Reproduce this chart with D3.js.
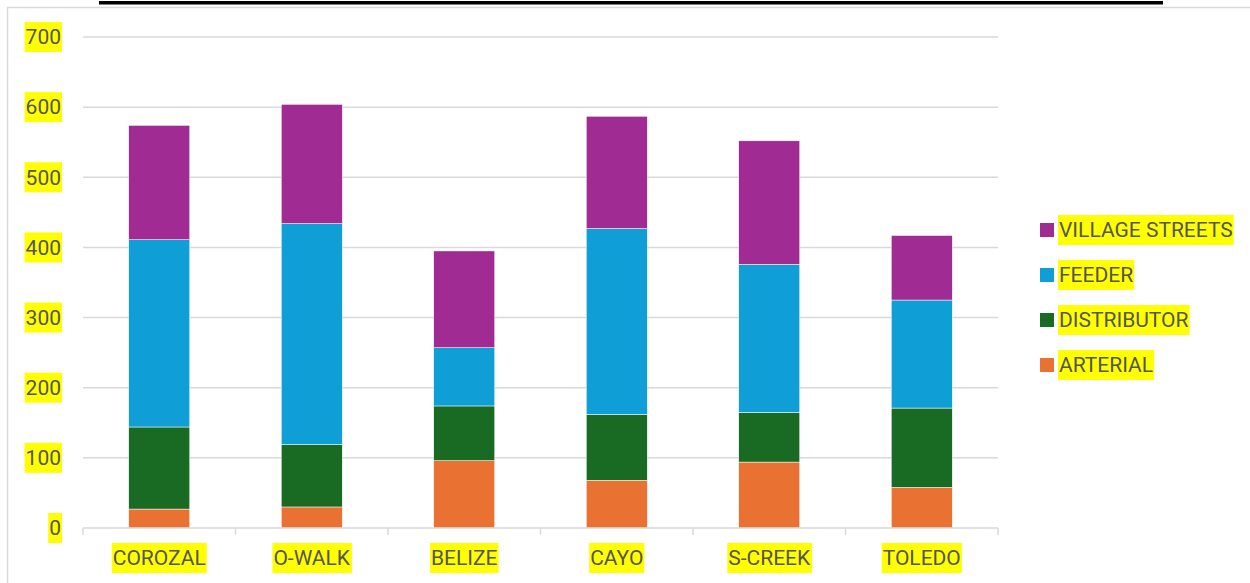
<!DOCTYPE html>
<html>
<head>
<meta charset="utf-8">
<script src="https://cdn.jsdelivr.net/npm/d3@7"></script>
<style>
	body {margin: 0; background: #fff;}
	svg {display: block;}
	text {font-family: Roboto, "Liberation Sans", sans-serif; font-size: 21px; fill: #555;}
</style>
</head>
<body>
<svg></svg>
<script>
let districts = ["COROZAL", "O-WALK", "BELIZE", "CAYO", "S-CREEK", "TOLEDO"];
let roadTypes = ["ARTERIAL", "DISTRIBUTOR", "FEEDER", "VILLAGE STREETS"];
let arterial = [27, 30, 96, 68, 94, 58];
let distributor = [117, 89, 78, 94, 71, 113];
let feeder = [267, 315, 83, 265, 211, 154];
let villageStreets = [163, 170, 138, 160, 176, 92];
let yTicks = [0, 100, 200, 300, 400, 500, 600, 700];
let colors = ["#E97132", "#196B24", "#0F9ED5", "#A02B93"];

documentInit();

function documentInit() {
	let svgWidth = 1250;
	let svgHeight = 583;
	let svg = d3.select("svg")
		.attr("width", svgWidth)
		.attr("height", svgHeight);

	let data = districts.map(function(d, i) {
		return {
			district: d,
			"ARTERIAL": arterial[i],
			"DISTRIBUTOR": distributor[i],
			"FEEDER": feeder[i],
			"VILLAGE STREETS": villageStreets[i]
		};
	});
	let stacked = d3.stack().keys(roadTypes)(data);

	//chart frame, runs off the page right and bottom
	svg.append("rect")
		.attr("x", 7.5).attr("y", 7.5)
		.attr("width", svgWidth).attr("height", svgHeight)
		.attr("fill", "none")
		.attr("stroke", "#d9d9d9")
		.attr("stroke-width", 1.5);

	//title is cut off above, only its underline shows
	svg.append("rect")
		.attr("x", 99).attr("y", 1)
		.attr("width", 1064).attr("height", 3.5)
		.attr("fill", "#000");

	let margin = {top: 37, left: 83, right: 252, bottom: 55};
	let width = svgWidth - margin.left - margin.right;
	let height = 528 - margin.top;
	let canvas = svg.append("g").attr("transform", "translate(" + margin.left + "," + margin.top + ")");

	let xscale = d3.scaleBand().domain(districts).range([0, width]).paddingInner(0.6).paddingOuter(0.3);
	let yscale = d3.scaleLinear().domain([0, 700]).range([height, 0]);
	let color = d3.scaleOrdinal().domain(roadTypes).range(colors);

	//gridlines
	canvas.append("g")
		.selectAll("line")
		.data(yTicks.filter(function(t) {return t > 0;}))
		.enter().append("line")
			.attr("x1", 0).attr("x2", width)
			.attr("y1", function(d) {return yscale(d);})
			.attr("y2", function(d) {return yscale(d);})
			.attr("stroke", "#d9d9d9")
			.attr("stroke-width", 1.5);

	//bars
	canvas.append("g")
		.selectAll("g")
		.data(stacked)
		.enter().append("g")
			.attr("fill", function(d) {return color(d.key);})
		.selectAll("rect")
		.data(function(d) {return d;})
		.enter().append("rect")
			.attr("x", function(d) {return xscale(d.data.district);})
			.attr("width", xscale.bandwidth())
			.attr("y", function(d) {return yscale(d[1]);})
			.attr("height", function(d) {return yscale(d[0]) - yscale(d[1]);})
			.attr("stroke", "#fff")
			.attr("stroke-width", 0.5);

	//x-axis line and boundary ticks
	let step = xscale.step();
	let xaxis = canvas.append("g").attr("class", "axis-x");
	xaxis.append("line")
		.attr("x1", 0).attr("x2", width)
		.attr("y1", height).attr("y2", height)
		.attr("stroke", "#d9d9d9").attr("stroke-width", 1.5);
	xaxis.selectAll(".tick")
		.data(d3.range(districts.length + 1))
		.enter().append("line")
			.attr("class", "tick")
			.attr("x1", function(d) {return d * step;})
			.attr("x2", function(d) {return d * step;})
			.attr("y1", height).attr("y2", height + 7)
			.attr("stroke", "#d9d9d9").attr("stroke-width", 1.5);

	let xlabels = xaxis.selectAll(".label")
		.data(districts)
		.enter().append("text")
			.attr("class", "label")
			.attr("text-anchor", "middle")
			.attr("x", function(d) {return xscale(d) + xscale.bandwidth() / 2;})
			.attr("y", height + 30)
			.attr("dy", "0.35em")
			.text(function(d) {return d;});

	//y-axis labels
	let ylabels = canvas.append("g").attr("class", "axis-y")
		.selectAll("text")
		.data(yTicks)
		.enter().append("text")
			.attr("text-anchor", "end")
			.attr("x", -22)
			.attr("y", function(d) {return yscale(d);})
			.attr("dy", "0.35em")
			.text(function(d) {return d;});

	//legend, top entry is the last series
	let legend = svg.append("g").attr("transform", "translate(1040,230)");
	let items = legend.selectAll("g")
		.data(roadTypes.slice().reverse())
		.enter().append("g")
			.attr("transform", function(d, i) {return "translate(0," + (i * 45) + ")";});
	items.append("rect")
		.attr("x", 0).attr("y", -7)
		.attr("width", 14).attr("height", 14)
		.attr("fill", function(d) {return color(d);});
	let legendLabels = items.append("text")
		.attr("x", 19)
		.attr("dy", "0.35em")
		.text(function(d) {return d;});

	//yellow highlight behind every text
	[xlabels, ylabels, legendLabels].forEach(function(sel) {
		sel.each(function() {
			let b = this.getBBox();
			let cy = +d3.select(this).attr("y") || 0;
			d3.select(this.parentNode).insert("rect", function() {return this;}.bind(this))
				.attr("x", b.x - 1)
				.attr("y", cy - 15)
				.attr("width", b.width + 2)
				.attr("height", 30)
				.attr("fill", "#ffff00");
		});
	});
}
</script>
</body>
</html>
